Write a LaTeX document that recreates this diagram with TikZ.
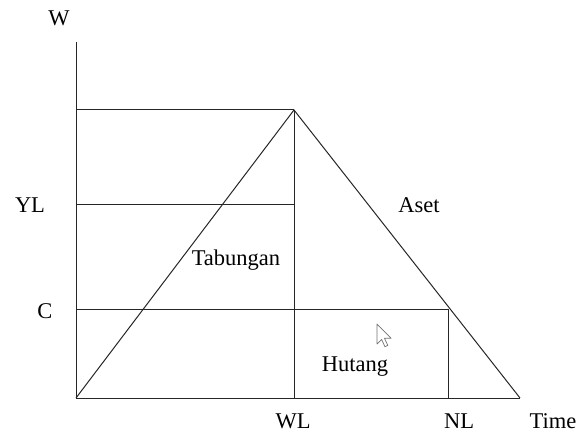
\documentclass[tikz,border=0pt]{standalone}
\usepackage{fontspec}
\setmainfont{Liberation Serif}
\begin{document}
\begin{tikzpicture}[x=1pt,y=1pt,
  ln/.style={line width=1pt,draw=black!85},
  lbl/.style={inner sep=0pt,font=\fontsize{22.5}{24}\selectfont}]
\useasboundingbox (0,0) rectangle (578,434);
% coordinates
\coordinate (O) at (76,36);
\coordinate (Ytop) at (76,392);
\coordinate (A) at (76,324);
\coordinate (P) at (294,324);
\coordinate (YLl) at (76,229);
\coordinate (YLr) at (294,229);
\coordinate (Cl) at (76,125);
\coordinate (Cr) at (448,125);
\coordinate (WLb) at (294,36);
\coordinate (NLb) at (448,36);
\coordinate (E) at (520,36);
% axes and lines
\draw[ln] (Ytop) -- (O) -- (E);
\draw[ln] (A) -- (P);
\draw[ln] (YLl) -- (YLr);
\draw[ln] (Cl) -- (Cr);
\draw[ln] (P) -- (WLb);
\draw[ln] (Cr) -- (NLb);
\draw[ln] (O) -- (P) -- (E);
% labels
\node[lbl] (w) at (59,416) {W};
\node[lbl] (yl) at (30,229) {YL};
\node[lbl] (c) at (45,123) {C};
\node[lbl] (wl) at (293,13) {WL};
\node[lbl] (nl) at (459,13) {NL};
\node[lbl] (time) at (553,13) {Time};
\node[lbl] (aset) at (419,229) {Aset};
\node[lbl] (tab) at (236,174) {Tabungan};
\node[lbl] (hut) at (355,67) {Hutang};
% mouse cursor
\draw[line width=0.7pt,draw=black!55,fill=white,line join=round]
  (377,110) -- ++(0,-20) -- ++(4.6,4.6) -- ++(3.3,-7.3) -- ++(2.9,1.3)
  -- ++(-3.3,7.1) -- ++(6.6,0) -- cycle;
\end{tikzpicture}
\end{document}
